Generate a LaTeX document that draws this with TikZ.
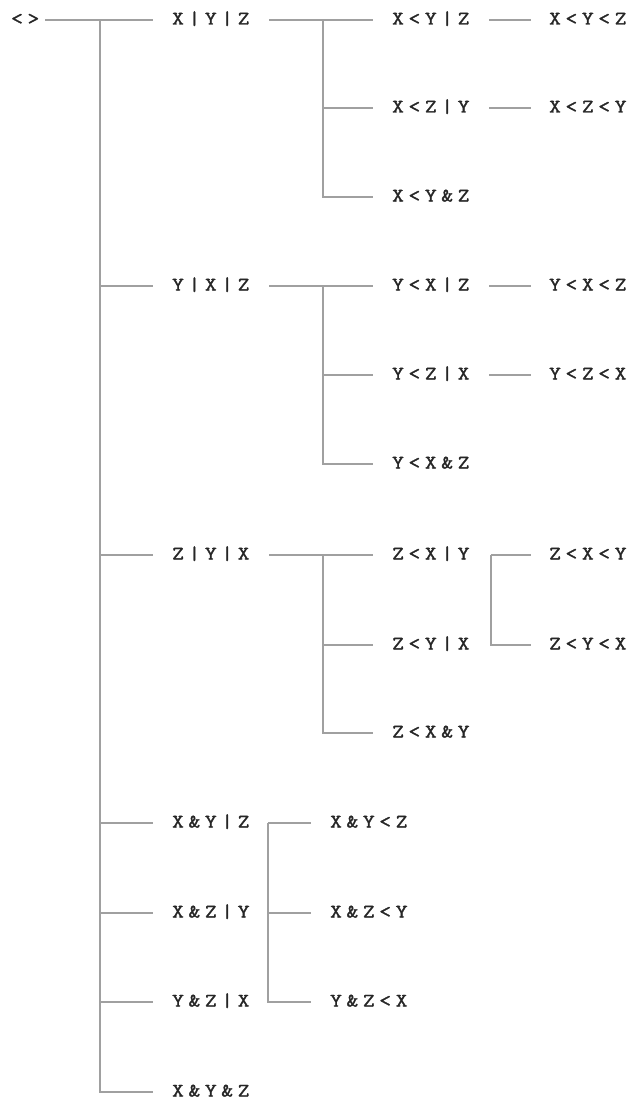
\documentclass[tikz,border=0pt]{standalone}
\usepackage{fontspec}
\newfontfamily\labfont[FakeStretch=1.2,FakeBold=1.6]{Latin Modern Mono}
\makeatletter
\newcommand\spaced[1]{\@tfor\spch:=#1\do{\makebox[16.4pt][c]{\spch}}}
\makeatother
\definecolor{linegray}{HTML}{A0A0A0}
\begin{document}
\begin{tikzpicture}[x=1pt,y=-1pt,
  lbl/.style={anchor=west,inner sep=0pt,text height=12pt,text depth=3pt,text=black!85,font=\labfont\fontsize{19}{19}\selectfont},
  conn/.style={draw=linegray,line width=2pt}]
\useasboundingbox[fill=white] (0,0) rectangle (633,1102);
% nodes
\node[lbl] (root) at (8.6,20) {\spaced{<>}};
\node[lbl] (a1) at (169.6,20) {\spaced{X|Y|Z}};
\node[lbl] (a2) at (169.6,286) {\spaced{Y|X|Z}};
\node[lbl] (a3) at (169.6,555) {\spaced{Z|Y|X}};
\node[lbl] (a4) at (169.6,823) {\spaced{X\&Y|Z}};
\node[lbl] (a5) at (169.6,913) {\spaced{X\&Z|Y}};
\node[lbl] (a6) at (169.6,1002) {\spaced{Y\&Z|X}};
\node[lbl] (a7) at (169.6,1092) {\spaced{X\&Y\&Z}};
\node[lbl] (b11) at (389.6,20) {\spaced{X<Y|Z}};
\node[lbl] (b12) at (389.6,108) {\spaced{X<Z|Y}};
\node[lbl] (b13) at (389.6,197) {\spaced{X<Y\&Z}};
\node[lbl] (b21) at (389.6,286) {\spaced{Y<X|Z}};
\node[lbl] (b22) at (389.6,375) {\spaced{Y<Z|X}};
\node[lbl] (b23) at (389.6,464) {\spaced{Y<X\&Z}};
\node[lbl] (b31) at (389.6,555) {\spaced{Z<X|Y}};
\node[lbl] (b32) at (389.6,645) {\spaced{Z<Y|X}};
\node[lbl] (b33) at (389.6,733) {\spaced{Z<X\&Y}};
\node[lbl] (c11) at (546.6,20) {\spaced{X<Y<Z}};
\node[lbl] (c12) at (546.6,108) {\spaced{X<Z<Y}};
\node[lbl] (c21) at (546.6,286) {\spaced{Y<X<Z}};
\node[lbl] (c22) at (546.6,375) {\spaced{Y<Z<X}};
\node[lbl] (c31) at (546.6,555) {\spaced{Z<X<Y}};
\node[lbl] (c32) at (546.6,645) {\spaced{Z<Y<X}};
\node[lbl] (d1) at (327.6,823) {\spaced{X\&Y<Z}};
\node[lbl] (d2) at (327.6,913) {\spaced{X\&Z<Y}};
\node[lbl] (d3) at (327.6,1002) {\spaced{Y\&Z<X}};
% junctions
\coordinate (trunk) at (100,20);
\coordinate (j1) at (323,20);
\coordinate (j2) at (323,286);
\coordinate (j3) at (323,555);
\coordinate (j4) at ([xshift=19pt]b31.east);
\coordinate (j5) at ([xshift=16.4pt]a4.east);
% root and trunk
\draw[conn] ([xshift=3.6pt]root.east) -- ([xshift=-17pt]a1.west);
\draw[conn] (trunk) |- ([xshift=-17pt]a7.west);
\foreach \n in {a2,a3,a4,a5,a6}{
  \draw[conn] (trunk |- \n.west) -- ([xshift=-17pt]\n.west);
}
% X|Y|Z group
\draw[conn] ([xshift=17pt]a1.east) -- ([xshift=-17pt]b11.west);
\draw[conn] (j1) |- ([xshift=-17pt]b13.west);
\draw[conn] (j1 |- b12.west) -- ([xshift=-17pt]b12.west);
% Y|X|Z group
\draw[conn] ([xshift=17pt]a2.east) -- ([xshift=-17pt]b21.west);
\draw[conn] (j2) |- ([xshift=-17pt]b23.west);
\draw[conn] (j2 |- b22.west) -- ([xshift=-17pt]b22.west);
% Z|Y|X group
\draw[conn] ([xshift=17pt]a3.east) -- ([xshift=-17pt]b31.west);
\draw[conn] (j3) |- ([xshift=-17pt]b33.west);
\draw[conn] (j3 |- b32.west) -- ([xshift=-17pt]b32.west);
% level 3
\draw[conn] ([xshift=17pt]b11.east) -- ([xshift=-16pt]c11.west);
\draw[conn] ([xshift=17pt]b12.east) -- ([xshift=-16pt]c12.west);
\draw[conn] ([xshift=17pt]b21.east) -- ([xshift=-16pt]c21.west);
\draw[conn] ([xshift=17pt]b22.east) -- ([xshift=-16pt]c22.west);
\draw[conn] (j4) -- ([xshift=-16pt]c31.west);
\draw[conn] (j4) |- ([xshift=-16pt]c32.west);
% X&Y|Z bracket
\draw[conn] (j5) -- ([xshift=-16.6pt]d1.west);
\draw[conn] (j5) |- ([xshift=-16.6pt]d3.west);
\draw[conn] (j5 |- d2.west) -- ([xshift=-16.6pt]d2.west);
\end{tikzpicture}
\end{document}
